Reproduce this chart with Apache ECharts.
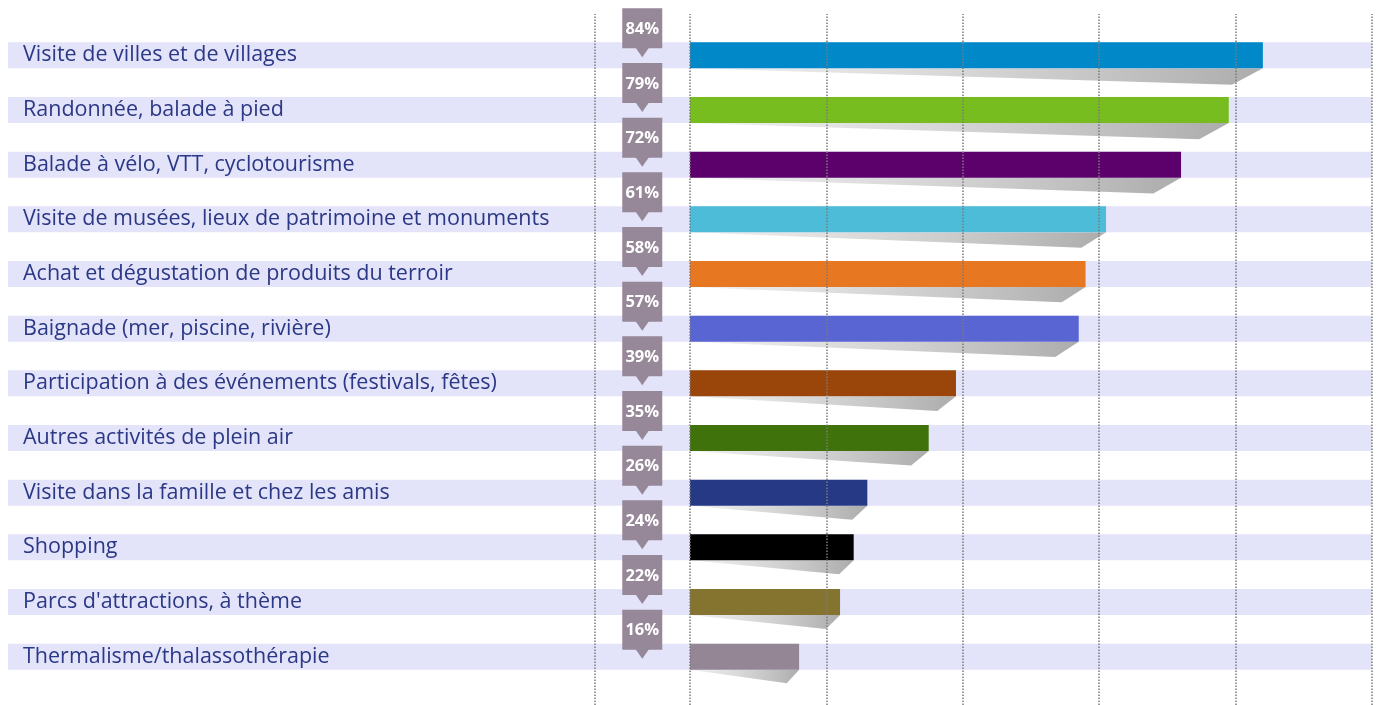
<!DOCTYPE html>
<html lang="fr">
<head>
    <meta charset="UTF-8">
    <title>Activités</title>
    <script src="https://cdn.jsdelivr.net/npm/echarts@6/dist/echarts.min.js"></script>
    <style>
        html, body { margin: 0; padding: 0; background: #fff; }
        #chartmain { width: 1377px; height: 705px; }
    </style>
</head>
<body>
<div id="chartmain"></div>
<script type="text/javascript">
    // données
    var categories = [
        'Visite de villes et de villages',
        'Randonnée, balade à pied',
        'Balade à vélo, VTT, cyclotourisme',
        'Visite de musées, lieux de patrimoine et monuments',
        'Achat et dégustation de produits du terroir',
        'Baignade (mer, piscine, rivière)',
        'Participation à des événements (festivals, fêtes)',
        'Autres activités de plein air',
        'Visite dans la famille et chez les amis',
        'Shopping',
        "Parcs d'attractions, à thème",
        'Thermalisme/thalassothérapie'
    ];
    var values = [84, 79, 72, 61, 58, 57, 39, 35, 26, 24, 22, 16];
    var barColors = ['#0088c8', '#78bd20', '#5c006b', '#4cbcd8', '#e87722', '#5865d3',
        '#9a450a', '#3f720b', '#253984', '#000000', '#85742f', '#958696'];
    var gridValues = [-14, 0, 20, 40, 60, 80, 100];

    var myChart = echarts.init(document.getElementById('chartmain'));

    var barData = values.map(function (v, i) {
        return { value: v, itemStyle: { color: barColors[i] } };
    });
    var pointData = values.map(function (v, i) { return [v, i]; });

    // ombre sous chaque barre
    function renderShadow(params, api) {
        var idx = api.value(1);
        var start = api.coord([0, idx]);
        var end = api.coord([api.value(0), idx]);
        var len = end[0] - start[0];
        var off = 8 + len * 0.04;
        var drop = 13 + len * 0.006;
        var y0 = start[1] + 13;
        return {
            type: 'polygon',
            shape: { points: [[start[0], y0], [end[0], y0], [end[0] - off, y0 + drop]] },
            style: {
                fill: {
                    type: 'linear', x: 0, y: 0, x2: 1, y2: 0,
                    colorStops: [
                        { offset: 0, color: 'rgba(225,225,225,0.5)' },
                        { offset: 1, color: '#acacac' }
                    ]
                }
            }
        };
    }

    // étiquette en bulle grise
    function renderCallout(params, api) {
        var idx = api.value(1);
        var c = api.coord([-7, idx]);
        var cx = c[0], cy = c[1];
        return {
            type: 'group',
            children: [
                {
                    type: 'rect',
                    shape: { x: cx - 20, y: cy - 47, width: 40, height: 40 },
                    style: { fill: '#968898' }
                },
                {
                    type: 'polygon',
                    shape: { points: [[cx - 7, cy - 8], [cx + 7, cy - 8], [cx, cy + 2]] },
                    style: { fill: '#968898' }
                },
                {
                    type: 'text',
                    style: {
                        x: cx, y: cy - 26,
                        text: api.value(0) + '%',
                        fill: '#ffffff',
                        font: 'bold 16.5px "Open Sans", sans-serif',
                        align: 'center',
                        verticalAlign: 'middle'
                    }
                }
            ]
        };
    }

    myChart.setOption({
        animation: false,
        grid: [
            { left: 8, right: 5, top: 28, bottom: 21 },
            { left: 8, right: 5, top: 14, bottom: 0 }
        ],
        xAxis: [
            { type: 'value', gridIndex: 0, min: -100, max: 100, show: false },
            { type: 'value', gridIndex: 1, min: -100, max: 100, show: false }
        ],
        yAxis: [
            {
                type: 'category',
                gridIndex: 0,
                data: categories,
                inverse: true,
                axisLine: { show: false },
                axisTick: { show: false },
                splitLine: { show: false },
                axisLabel: {
                    inside: true,
                    margin: 15,
                    color: '#2b3886',
                    fontSize: 21.5,
                    fontFamily: '"Open Sans", sans-serif'
                },
                z: 5
            },
            { type: 'value', gridIndex: 1, min: 0, max: 1, show: false }
        ],
        series: [
            {
                type: 'bar',
                xAxisIndex: 0,
                yAxisIndex: 0,
                data: barData,
                barWidth: 26,
                showBackground: true,
                backgroundStyle: { color: '#e3e3f9' },
                z: 2
            },
            {
                type: 'custom',
                xAxisIndex: 0,
                yAxisIndex: 0,
                data: pointData,
                encode: { x: 0, y: 1 },
                renderItem: renderShadow,
                z: 1
            },
            {
                type: 'custom',
                xAxisIndex: 0,
                yAxisIndex: 0,
                data: pointData,
                encode: { x: 0, y: 1 },
                renderItem: renderCallout,
                z: 4
            },
            {
                type: 'line',
                xAxisIndex: 1,
                yAxisIndex: 1,
                data: [],
                z: 3,
                markLine: {
                    silent: true,
                    symbol: 'none',
                    label: { show: false },
                    lineStyle: { type: 'dotted', color: '#7a7a7a', width: 1.5 },
                    data: gridValues.map(function (v) { return { xAxis: v }; })
                }
            }
        ]
    });
</script>
</body>
</html>
